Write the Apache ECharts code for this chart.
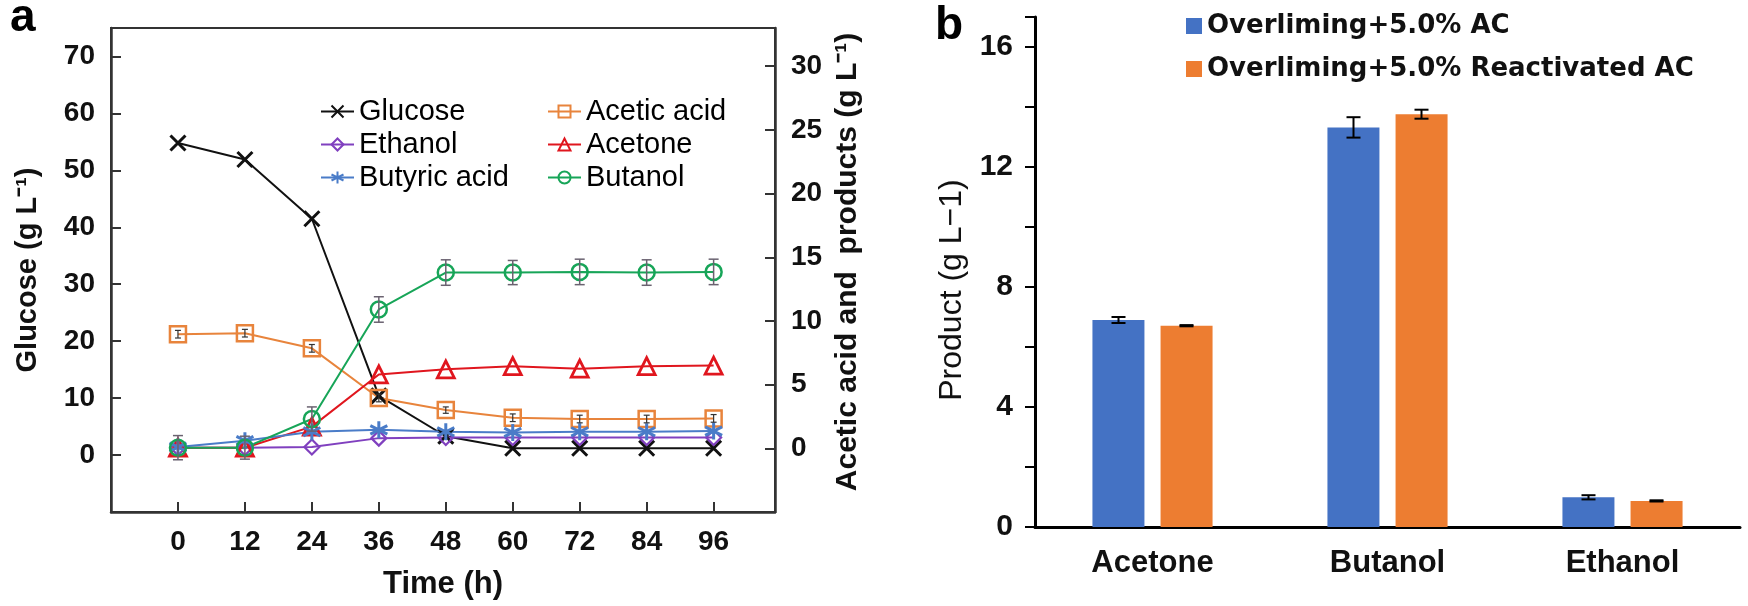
<!DOCTYPE html>
<html>
<head>
<meta charset="utf-8">
<script src="https://cdn.jsdelivr.net/npm/echarts@6/dist/echarts.min.js"></script>
<style>
html,body{margin:0;padding:0;background:#fff;}
#chart{width:1748px;height:606px;}
</style>
</head>
<body>
<div id="chart"></div>
<script>
// ---------- Data: panel a ----------
const times = [0, 12, 24, 36, 48, 60, 72, 84, 96];
const glucose = [54.8, 51.9, 41.5, 10.4, 3.3, 1.2, 1.2, 1.2, 1.2];
const aceticAcid = [8.96, 9.04, 7.85, 3.95, 3.0, 2.4, 2.3, 2.3, 2.35];
const ethanol = [0.05, 0.05, 0.1, 0.8, 0.85, 0.85, 0.85, 0.85, 0.85];
const acetone = [0.05, 0.05, 1.7, 5.8, 6.2, 6.45, 6.25, 6.45, 6.5];
const butyricAcid = [0.1, 0.6, 1.3, 1.45, 1.3, 1.25, 1.3, 1.3, 1.35];
const butanol = [0.05, 0.05, 2.3, 10.9, 13.8, 13.8, 13.85, 13.8, 13.85];
const butanolErr = [0.95, 0.9, 0.95, 1.0, 1.0, 0.95, 1.0, 1.0, 1.0];
const aceticErr = [0.3, 0.3, 0.3, 0.3, 0.25, 0.3, 0.3, 0.3, 0.3];
const timeTicks = [0, 12, 24, 36, 48, 60, 72, 84, 96];

// ---------- Data: panel b ----------
const products = ['Acetone', 'Butanol', 'Ethanol'];
const acValues = [6.9, 13.32, 0.99];
const acErr = [0.1, 0.34, 0.07];
const reactValues = [6.71, 13.76, 0.87];
const reactErr = [0.02, 0.15, 0.02];

const FONT = '"Liberation Sans", Arial, sans-serif';

function pairs(ys) { return times.map((t, i) => [t, ys[i]]); }

function errRender(color, capHalf, lw, dx) {
  return function (params, api) {
    const x = api.value(0), y = api.value(1), e = api.value(2);
    const top = api.coord([x, y + e]);
    const bot = api.coord([x, y - e]);
    const cx = top[0] + (dx || 0);
    const style = { stroke: color, lineWidth: lw };
    return {
      type: 'group',
      children: [
        { type: 'line', shape: { x1: cx, y1: top[1], x2: cx, y2: bot[1] }, style: style },
        { type: 'line', shape: { x1: cx - capHalf, y1: top[1], x2: cx + capHalf, y2: top[1] }, style: style },
        { type: 'line', shape: { x1: cx - capHalf, y1: bot[1], x2: cx + capHalf, y2: bot[1] }, style: style }
      ]
    };
  };
}

const clear = 'rgba(255,255,255,0)';
function lineSeries(name, data, yAxisIndex, color, symbol, size, bw) {
  return {
    type: 'line', name: name, data: pairs(data),
    xAxisIndex: 0, yAxisIndex: yAxisIndex,
    symbol: symbol, symbolSize: size,
    lineStyle: { color: color, width: 2 },
    itemStyle: { color: clear, borderColor: color, borderWidth: bw },
    emphasis: { disabled: true },
    z: 3
  };
}

const C = {
  glucose: '#111111', acetic: '#E8843C', ethanol: '#8040BF',
  acetone: '#E0161E', butyric: '#4A7CC8', butanol: '#17A558'
};
const X_SYM = 'path://M0,0L10,10M10,0L0,10';
const AST_SYM = 'path://M5,0L5,10M0.7,2.5L9.3,7.5M0.7,7.5L9.3,2.5';

const chart = echarts.init(document.getElementById('chart'), null, { renderer: 'canvas' });

const option = {
  animation: false,
  backgroundColor: '#fff',
  textStyle: { fontFamily: FONT },
  graphic: [
    { type: 'text', left: 10, top: -5, style: { text: 'a', font: 'bold 46px ' + FONT, fill: '#000' } },
    { type: 'text', left: 935, top: 3, style: { text: 'b', font: 'bold 46px ' + FONT, fill: '#000' } }
  ],
  grid: [
    { left: 111, top: 28, width: 664, height: 484, show: true, borderColor: '#333', borderWidth: 2, containLabel: false },
    { left: 1035, top: 17, width: 705, height: 510, containLabel: false }
  ],
  legend: [
    {
      data: ['Glucose', 'Ethanol', 'Butyric acid'], orient: 'vertical',
      left: 315, top: 92, itemWidth: 33, itemHeight: 15, itemGap: 4,
      textStyle: { fontFamily: FONT, fontSize: 29, color: '#000', lineHeight: 29 },
      selectedMode: false
    },
    {
      data: ['Acetic acid', 'Acetone', 'Butanol'], orient: 'vertical',
      left: 542, top: 92, itemWidth: 33, itemHeight: 15, itemGap: 4,
      textStyle: { fontFamily: FONT, fontSize: 29, color: '#000', lineHeight: 29 },
      selectedMode: false
    },
    {
      data: ['Overliming+5.0% AC', 'Overliming+5.0% Reactivated AC'], orient: 'vertical',
      left: 1181, top: 8, itemWidth: 16, itemHeight: 16, itemGap: 17, icon: 'rect',
      textStyle: { fontFamily: '"DejaVu Sans", sans-serif', fontWeight: 'bold', fontSize: 26, color: '#111', lineHeight: 26 },
      selectedMode: false
    }
  ],
  xAxis: [
    {
      gridIndex: 0, type: 'value', min: -12, max: 107, interval: 12,
      name: 'Time (h)', nameLocation: 'middle', nameGap: 57,
      nameTextStyle: { fontFamily: FONT, fontWeight: 'bold', fontSize: 31, color: '#111' },
      axisLine: { onZero: false, lineStyle: { color: '#333', width: 2.5 } },
      axisTick: { inside: true, length: 10, lineStyle: { color: '#333', width: 2 } },
      axisLabel: {
        margin: 16, fontFamily: FONT, fontWeight: 'bold', fontSize: 28, color: '#111',
        formatter: function (v) { return timeTicks.indexOf(v) >= 0 ? String(v) : ''; }
      },
      splitLine: { show: false }
    },
    {
      gridIndex: 1, type: 'category', data: products,
      axisLine: { onZero: false, lineStyle: { color: '#000', width: 3 } },
      axisTick: { show: false },
      axisLabel: { margin: 21, fontFamily: FONT, fontWeight: 'bold', fontSize: 31, color: '#111' },
      splitLine: { show: false }
    }
  ],
  yAxis: [
    {
      gridIndex: 0, type: 'value', min: -10, max: 75, interval: 10, position: 'left',
      name: 'Glucose (g L⁻¹)', nameLocation: 'middle', nameGap: 69, nameRotate: 90,
      nameTextStyle: { fontFamily: FONT, fontWeight: 'bold', fontSize: 29, color: '#111' },
      axisLine: { show: true, onZero: false, lineStyle: { color: '#333', width: 2.5 } },
      axisTick: { show: true, inside: true, length: 10, lineStyle: { color: '#333', width: 2 } },
      axisLabel: {
        margin: 16, fontFamily: FONT, fontWeight: 'bold', fontSize: 28, color: '#111',
        formatter: function (v) { return (v >= 0 && v <= 70) ? String(v) : ''; }
      },
      splitLine: { show: false }
    },
    {
      gridIndex: 0, type: 'value', min: -5, max: 33, interval: 5, position: 'right',
      name: 'Acetic acid and  products (g L⁻¹)', nameLocation: 'middle', nameGap: 58, nameRotate: 90,
      nameTextStyle: { fontFamily: FONT, fontWeight: 'bold', fontSize: 30, color: '#111', padding: [0, 0, 0, 16] },
      axisLine: { show: true, onZero: false, lineStyle: { color: '#333', width: 2.5 } },
      axisTick: { show: true, inside: true, length: 10, lineStyle: { color: '#333', width: 2 } },
      axisLabel: {
        margin: 16, fontFamily: FONT, fontWeight: 'bold', fontSize: 28, color: '#111',
        formatter: function (v) { return (v >= 0 && v <= 30) ? String(v) : ''; }
      },
      splitLine: { show: false }
    },
    {
      gridIndex: 1, type: 'value', min: 0, max: 17, interval: 2,
      name: 'Product (g L−1)', nameLocation: 'middle', nameGap: 67, nameRotate: 90,
      nameTextStyle: { fontFamily: FONT, fontSize: 32, color: '#111', padding: [0, 36, 0, 0] },
      axisLine: { show: true, onZero: false, lineStyle: { color: '#000', width: 3 } },
      axisTick: { show: true, inside: false, length: 10, lineStyle: { color: '#000', width: 2 } },
      axisLabel: {
        margin: 22, fontFamily: FONT, fontWeight: 'bold', fontSize: 30, color: '#111',
        formatter: function (v) { return (v % 4 === 0) ? String(v) : ''; }
      },
      splitLine: { show: false }
    }
  ],
  series: [
    lineSeries('Glucose', glucose, 0, C.glucose, X_SYM, 15, 3),
    lineSeries('Acetic acid', aceticAcid, 1, C.acetic, 'rect', 16, 2.5),
    lineSeries('Ethanol', ethanol, 1, C.ethanol, 'diamond', 15, 2.2),
    lineSeries('Acetone', acetone, 1, C.acetone, 'triangle', 17, 2.8),
    lineSeries('Butyric acid', butyricAcid, 1, C.butyric, AST_SYM, 17, 3),
    lineSeries('Butanol', butanol, 1, C.butanol, 'circle', 16, 2.5),
    {
      type: 'custom', name: 'butanol-err', xAxisIndex: 0, yAxisIndex: 1,
      data: times.map((t, i) => [t, butanol[i], butanolErr[i]]),
      encode: { x: 0, y: 1 }, renderItem: errRender('#6a6270', 5, 1.5), z: 4, silent: true
    },
    {
      type: 'custom', name: 'acetic-err', xAxisIndex: 0, yAxisIndex: 1,
      data: times.map((t, i) => [t, aceticAcid[i], aceticErr[i]]),
      encode: { x: 0, y: 1 }, renderItem: errRender('#333', 3, 1.2), z: 4, silent: true
    },
    {
      type: 'bar', name: 'Overliming+5.0% AC', xAxisIndex: 1, yAxisIndex: 2,
      data: acValues, barWidth: 52, barGap: '31%', itemStyle: { color: '#4472C4' }, emphasis: { disabled: true }
    },
    {
      type: 'bar', name: 'Overliming+5.0% Reactivated AC', xAxisIndex: 1, yAxisIndex: 2,
      data: reactValues, barWidth: 52, barGap: '31%', itemStyle: { color: '#ED7D31' }, emphasis: { disabled: true }
    },
    {
      type: 'custom', name: 'ac-err', xAxisIndex: 1, yAxisIndex: 2,
      data: products.map((p, i) => [i, acValues[i], acErr[i]]),
      encode: { x: 0, y: 1 }, renderItem: errRender('#000', 7, 2, -34), z: 5, silent: true
    },
    {
      type: 'custom', name: 'react-err', xAxisIndex: 1, yAxisIndex: 2,
      data: products.map((p, i) => [i, reactValues[i], reactErr[i]]),
      encode: { x: 0, y: 1 }, renderItem: errRender('#000', 7, 2, 34), z: 5, silent: true
    }
  ]
};
chart.setOption(option);
</script>
</body>
</html>
